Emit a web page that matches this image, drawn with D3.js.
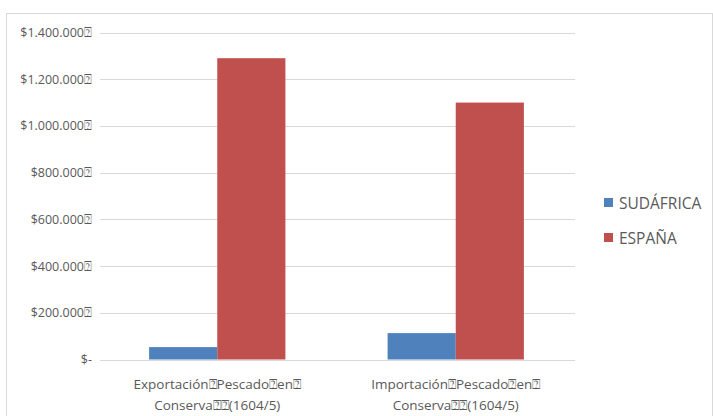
<!DOCTYPE html>
<html>
<head>
<meta charset="utf-8">
<script src="https://cdn.jsdelivr.net/npm/d3@7"></script>
<style>
  body { margin: 0; background: #fff; }
  text { font-family: "Open Sans", "Liberation Sans", sans-serif; fill: #595959; }
</style>
</head>
<body>
<script>
// data
var categories = ["Exportación\u2370Pescado\u2370en\u2370|Conserva\u2370\u2370(1604/5)",
                  "Importación\u2370Pescado\u2370en\u2370|Conserva\u2370\u2370(1604/5)"];
var seriesNames = ["SUDÁFRICA", "ESPAÑA"];
var sudafrica = [53000, 113000];
var espana = [1290000, 1100000];
var tickValues = [0, 200000, 400000, 600000, 800000, 1000000, 1200000, 1400000];
var tickLabels = ["$-", "$200.000\u2370", "$400.000\u2370", "$600.000\u2370", "$800.000\u2370",
                  "$1.000.000\u2370", "$1.200.000\u2370", "$1.400.000\u2370"];
var colors = ["#4f81bd", "#c0504d"];

var W = 713, H = 416;
var margin = {top: 32.5, right: 138, bottom: 56.5, left: 98};

var svg = d3.select("body").append("svg")
    .attr("width", W)
    .attr("height", H);

// chart border
svg.append("rect")
    .attr("x", 6.5).attr("y", 13.5)
    .attr("width", 706).attr("height", 420)
    .attr("fill", "none")
    .attr("stroke", "#d9d9d9");

var y = d3.scaleLinear()
    .domain([0, 1400000])
    .range([H - margin.bottom, margin.top]);

// excel gap width ~150%
var x0 = d3.scaleBand()
    .domain(d3.range(categories.length))
    .range([margin.left, W - margin.right])
    .paddingInner(0.4285)
    .paddingOuter(0.2143);

var x1 = d3.scaleBand()
    .domain(d3.range(seriesNames.length))
    .range([0, x0.bandwidth()]);

var gx1 = 100, gx2 = W - margin.right;

// gridlines
svg.append("g")
  .selectAll("line")
  .data(tickValues.slice(1))
  .enter().append("line")
    .attr("x1", gx1).attr("x2", gx2)
    .attr("y1", function(d) { return Math.round(y(d)) + 0.5; })
    .attr("y2", function(d) { return Math.round(y(d)) + 0.5; })
    .attr("stroke", "#d9d9d9");

// y axis labels
var yAxis = d3.axisLeft(y)
    .tickValues(tickValues)
    .tickSize(0)
    .tickPadding(6)
    .tickFormat(function(d, i) { return tickLabels[i]; });

var ya = svg.append("g")
    .attr("transform", "translate(" + margin.left + ",0)")
    .call(yAxis);
ya.select(".domain").remove();
ya.selectAll("text")
    .style("font-size", "12.5px")
    .style("font-family", "'Open Sans', 'Liberation Sans', sans-serif")
    .attr("fill", "#595959");

// bars
var data = [sudafrica, espana];
var groups = svg.append("g")
  .selectAll("g")
  .data(categories)
  .enter().append("g")
    .attr("transform", function(d, i) { return "translate(" + x0(i) + ",0)"; });

groups.selectAll("rect")
  .data(function(d, i) { return data.map(function(s, k) { return {k: k, v: s[i]}; }); })
  .enter().append("rect")
    .attr("x", function(d) { return x1(d.k); })
    .attr("width", x1.bandwidth())
    .attr("y", function(d) { return y(d.v); })
    .attr("height", function(d) { return y(0) - y(d.v); })
    .attr("fill", function(d) { return colors[d.k]; });

// baseline
svg.append("line")
    .attr("x1", gx1).attr("x2", gx2)
    .attr("y1", Math.round(y(0)) + 0.5).attr("y2", Math.round(y(0)) + 0.5)
    .attr("stroke", "#d9d9d9");

// category labels
var cl = svg.append("g")
  .selectAll("text")
  .data(categories)
  .enter().append("text")
    .attr("x", function(d, i) { return x0(i) + x0.bandwidth() / 2; })
    .attr("y", 389)
    .attr("text-anchor", "middle")
    .style("font-size", "13.5px");
cl.selectAll("tspan")
  .data(function(d) { return d.split("|"); })
  .enter().append("tspan")
    .attr("x", function() { return d3.select(this.parentNode).attr("x"); })
    .attr("dy", function(d, i) { return i ? 21 : 0; })
    .text(function(d) { return d; });

// legend
var legend = svg.append("g")
  .selectAll("g")
  .data(seriesNames)
  .enter().append("g")
    .attr("transform", function(d, i) { return "translate(604," + (198 + i * 35) + ")"; });
legend.append("rect")
    .attr("width", 9).attr("height", 9)
    .attr("fill", function(d, i) { return colors[i]; });
legend.append("text")
    .attr("x", 15).attr("y", 10.5)
    .style("font-size", "15.5px")
    .text(function(d) { return d; });
</script>
</body>
</html>
